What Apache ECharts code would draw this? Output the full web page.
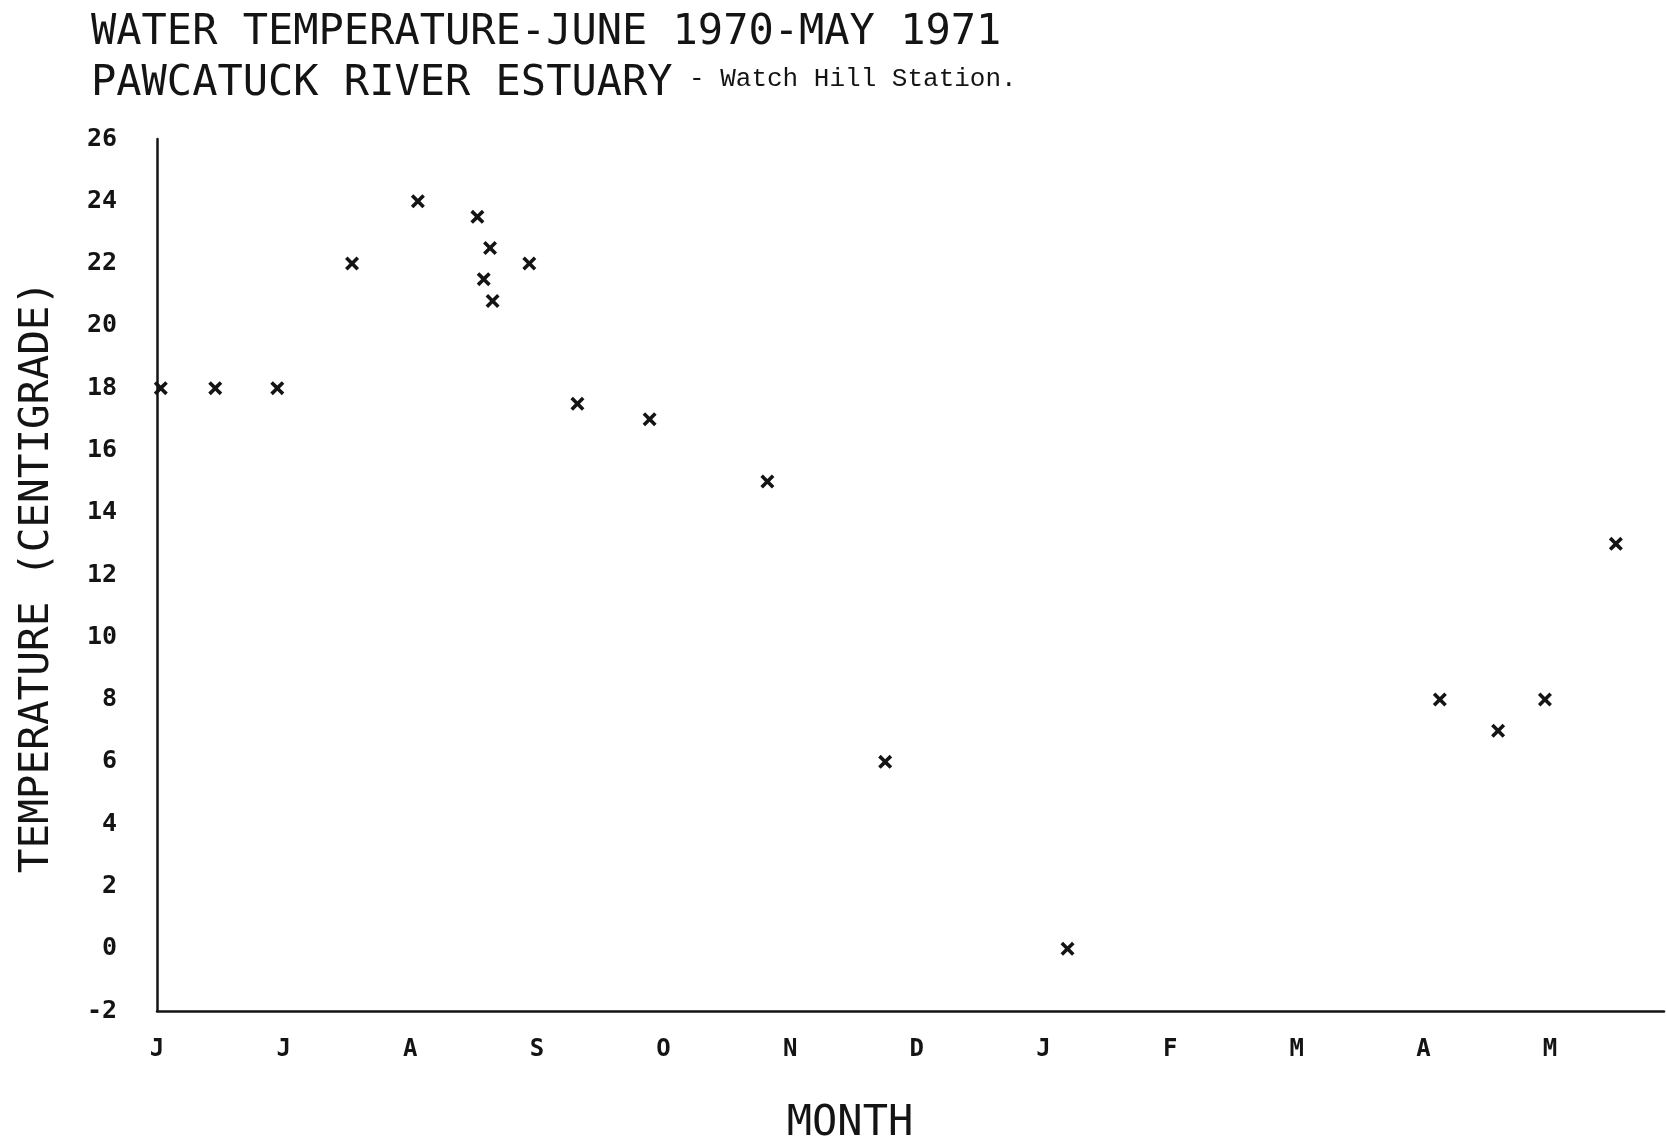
<!DOCTYPE html>
<html>
<head>
<meta charset="utf-8">
<title>Water Temperature – Pawcatuck River Estuary</title>
<script src="https://cdn.jsdelivr.net/npm/echarts@6/dist/echarts.min.js"></script>
<style>
  html, body { margin: 0; padding: 0; background: #ffffff; }
  #chart { width: 1667px; height: 1144px; }
</style>
</head>
<body>
<div id="chart"></div>
<script>
// Month initials, June 1970 through May 1971 (tick at the start of each month)
const monthLetters = ['J', 'J', 'A', 'S', 'O', 'N', 'D', 'J', 'F', 'M', 'A', 'M'];

// Sampling time, in months after 1 June 1970
const sampleMonth = [0.03, 0.46, 0.95, 1.54, 2.06, 2.53, 2.63, 2.58, 2.65, 2.94,
                     3.32, 3.89, 4.82, 5.75, 7.19, 10.13, 10.59, 10.96, 11.52];

// Water temperature, degrees Centigrade
const waterTemp = [18, 18, 18, 22, 24, 23.5, 22.5, 21.5, 20.8, 22,
                   17.5, 17, 15, 6, 0, 8, 7, 8, 13];

// Temperature axis tick values
const tempTicks = { min: -2, max: 26, step: 2 };

const points = sampleMonth.map((m, i) => [m, waterTemp[i]]);

// Plotter-style "x" marker
const crossMark = 'path://M0,1.8L1.8,0L5,3.2L8.2,0L10,1.8L6.8,5L10,8.2L8.2,10L5,6.8L1.8,10L0,8.2L3.2,5Z';

const plotterFont = '"DejaVu Sans Mono", monospace';
const ink = '#141414';

const chart = echarts.init(document.getElementById('chart'), null, { renderer: 'canvas' });

chart.setOption({
  backgroundColor: '#ffffff',
  animation: false,
  title: [
    {
      text: 'WATER TEMPERATURE-JUNE 1970-MAY 1971',
      left: 86, top: 7,
      textStyle: { fontFamily: plotterFont, fontSize: 42, fontWeight: 'normal', color: ink }
    },
    {
      text: 'PAWCATUCK RIVER ESTUARY',
      left: 86, top: 58,
      textStyle: { fontFamily: plotterFont, fontSize: 42, fontWeight: 'normal', color: ink }
    },
    {
      text: '- Watch Hill Station.',
      left: 684, top: 61,
      textStyle: { fontFamily: '"Liberation Mono", monospace', fontSize: 26, fontWeight: 'normal', color: ink }
    }
  ],
  grid: { left: 157, right: 0, top: 139, bottom: 133 },
  xAxis: {
    type: 'value',
    min: 0,
    max: 11.9,
    interval: 1,
    axisLine: { show: true, onZero: false, lineStyle: { color: ink, width: 2.5 } },
    axisTick: { show: false },
    splitLine: { show: false },
    axisLabel: {
      margin: 27,
      fontFamily: plotterFont,
      fontSize: 24,
      fontWeight: 'bold',
      color: ink,
      formatter: v => (Number.isInteger(v) && monthLetters[v]) ? monthLetters[v] : ''
    }
  },
  yAxis: {
    type: 'value',
    min: tempTicks.min,
    max: tempTicks.max,
    interval: tempTicks.step,
    axisLine: { show: true, onZero: false, lineStyle: { color: ink, width: 2.5 } },
    axisTick: { show: false },
    splitLine: { show: false },
    axisLabel: {
      margin: 40,
      fontFamily: plotterFont,
      fontSize: 25,
      fontWeight: 'bold',
      color: ink
    }
  },
  graphic: [
    {
      type: 'text',
      x: 850, y: 1124,
      style: {
        text: 'MONTH',
        align: 'center', verticalAlign: 'middle',
        fontFamily: plotterFont, fontSize: 42, fill: ink
      }
    },
    {
      type: 'text',
      x: 37, y: 577,
      rotation: Math.PI / 2,
      style: {
        text: 'TEMPERATURE (CENTIGRADE)',
        align: 'center', verticalAlign: 'middle',
        fontFamily: plotterFont, fontSize: 41, fill: ink
      }
    }
  ],
  series: [
    {
      type: 'scatter',
      data: points,
      symbol: crossMark,
      symbolSize: 14,
      itemStyle: { color: ink, opacity: 1 },
      emphasis: { disabled: true }
    }
  ]
});
</script>
</body>
</html>
